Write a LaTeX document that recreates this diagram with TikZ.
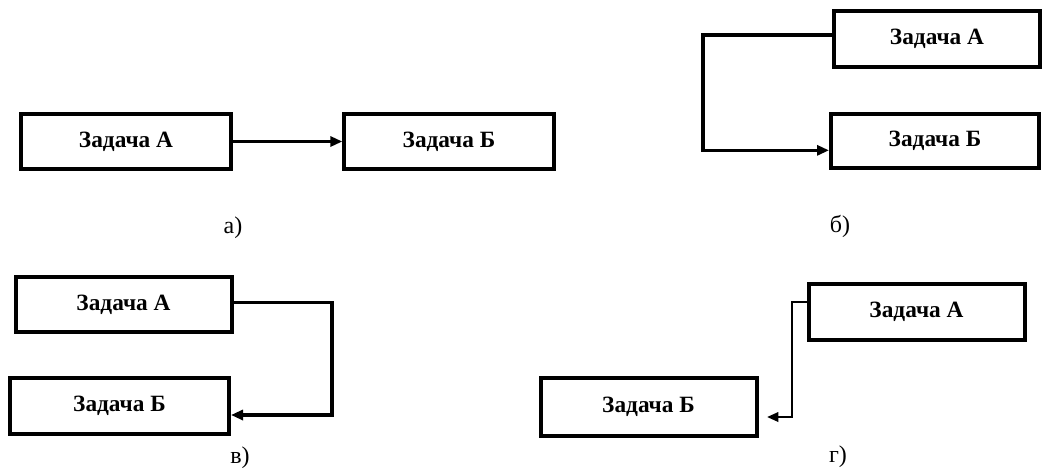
\documentclass[tikz,border=0pt]{standalone}
\usepackage{fontspec}
\setmainfont{Liberation Serif}
\usetikzlibrary{arrows.meta}

\begin{document}
\begin{tikzpicture}[x=0.75pt,y=-0.75pt,
  taskbox/.style={draw=black, line width=3pt, fill=white,
    minimum width=163pt, minimum height=41pt, inner sep=0pt,
    font=\fontsize{17.5}{20}\selectfont\bfseries},
  link/.style={draw=black, line width=2.6pt,
    -{Triangle[length=9pt,width=7.5pt]}},
  thinlink/.style={draw=black, line width=1.8pt,
    -{Triangle[length=8.5pt,width=7pt]}},
  caption/.style={font=\fontsize{18}{21}\selectfont, inner sep=0pt}]

\useasboundingbox (0,0) rectangle (1045,471);

% (а) sequential link
\node[taskbox, minimum width=157pt] (aA) at (126,141.5) {Задача А};
\node[taskbox, minimum width=157pt] (aB) at (449,141.5) {Задача Б};
\draw[link] (aA.east) -- (aB.west);
\node[caption] (la) at (233,228) {а)};

% (б) start-to-start
\node[taskbox, minimum width=154pt, minimum height=42pt] (bA) at (937,38.5) {Задача А};
\node[taskbox, minimum width=156pt] (bB) at (935,141) {Задача Б};
\coordinate (bX) at (703,0);
\draw[link] ([yshift=2.5pt]bA.west) -- ([yshift=2.5pt]bA.west -| bX) |- ([yshift=-7pt]bB.west);
\node[caption] (lb) at (840,226) {б)};

% (в) finish-to-finish
\node[taskbox, minimum width=162pt] (vA) at (123.5,304.5) {Задача А};
\node[taskbox, minimum width=164pt, minimum height=42pt] (vB) at (119.5,406) {Задача Б};
\coordinate (vX) at (332,0);
\coordinate (vEnd) at (231,415);
\draw[link] ([yshift=1.5pt]vA.east) -- ([yshift=1.5pt]vA.east -| vX) |- (vEnd);
\node[caption] (lv) at (240,458) {в)};

% (г) start-to-finish
\node[taskbox, minimum width=162pt, minimum height=42pt] (gA) at (916.5,312) {Задача А};
\node[taskbox, minimum width=162pt, minimum height=43pt] (gB) at (648.5,407) {Задача Б};
\coordinate (gX) at (792,0);
\coordinate (gEnd) at (767,417);
\draw[thinlink] ([yshift=7.5pt]gA.west) -- ([yshift=7.5pt]gA.west -| gX) |- (gEnd);
\node[caption] (lg) at (838,457) {г)};

\end{tikzpicture}
\end{document}
